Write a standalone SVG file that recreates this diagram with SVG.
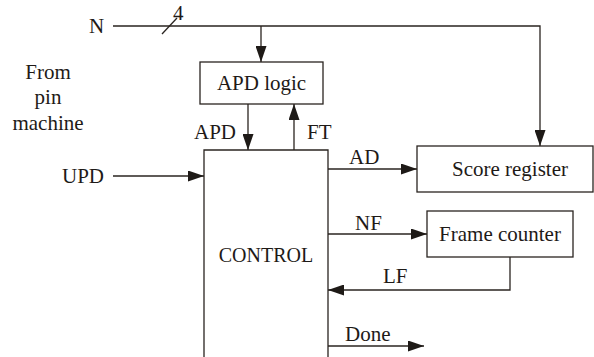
<svg xmlns="http://www.w3.org/2000/svg" width="594" height="357" viewBox="0 0 594 357">
<defs>
<marker id="ah" viewBox="0 0 16 11" refX="16" refY="5.5" markerWidth="16" markerHeight="11" markerUnits="userSpaceOnUse" orient="auto">
<path d="M0,0 L16,5.5 L0,11 Z" fill="#1e1a17"/>
</marker>
</defs>
<g id="connectors" stroke="#2a2420" stroke-width="1.3" fill="none">
<path d="M113,26 H540 V146" marker-end="url(#ah)"/>
<path d="M162,34 L177,18"/>
<path d="M261,26 V62" marker-end="url(#ah)"/>
<path d="M248,104 V150" marker-end="url(#ah)"/>
<path d="M294,150 V104" marker-end="url(#ah)"/>
<path d="M113,176 H204" marker-end="url(#ah)"/>
<path d="M328,169 H417" marker-end="url(#ah)"/>
<path d="M328,234 H427" marker-end="url(#ah)"/>
<path d="M510,257 V290 H328" marker-end="url(#ah)"/>
<path d="M328,346 H424" marker-end="url(#ah)"/>
</g>
<g id="apd-logic">
<rect x="200" y="62" width="123" height="42" fill="#fff" stroke="#2a2420" stroke-width="1.3"/>
<text x="261.5" y="90" text-anchor="middle" font-family="Liberation Serif" font-size="21" fill="#1e1a17">APD logic</text>
</g>
<g id="control">
<path d="M204,358 V150 H328 V358" fill="none" stroke="#2a2420" stroke-width="1.3"/>
<text x="266" y="262" text-anchor="middle" font-family="Liberation Serif" font-size="20" fill="#1e1a17">CONTROL</text>
</g>
<g id="score-register">
<rect x="417" y="146" width="176" height="46" fill="#fff" stroke="#2a2420" stroke-width="1.3"/>
<text x="510" y="176" text-anchor="middle" font-family="Liberation Serif" font-size="21" fill="#1e1a17">Score register</text>
</g>
<g id="frame-counter">
<rect x="427" y="211" width="146" height="46" fill="#fff" stroke="#2a2420" stroke-width="1.3"/>
<text x="500" y="241" text-anchor="middle" font-family="Liberation Serif" font-size="21" fill="#1e1a17">Frame counter</text>
</g>
<g id="labels">
<text x="89" y="33" font-family="Liberation Serif" font-size="21" fill="#1e1a17">N</text>
<text x="173" y="20" font-family="Liberation Serif" font-size="21" fill="#1e1a17">4</text>
<text x="48" y="79" text-anchor="middle" font-family="Liberation Serif" font-size="21" fill="#1e1a17">From</text>
<text x="48" y="104" text-anchor="middle" font-family="Liberation Serif" font-size="21" fill="#1e1a17">pin</text>
<text x="48" y="130" text-anchor="middle" font-family="Liberation Serif" font-size="21" fill="#1e1a17">machine</text>
<text x="62" y="183" font-family="Liberation Serif" font-size="21" fill="#1e1a17">UPD</text>
<text x="194" y="139" font-family="Liberation Serif" font-size="21" fill="#1e1a17">APD</text>
<text x="307" y="139" font-family="Liberation Serif" font-size="21" fill="#1e1a17">FT</text>
<text x="349" y="164" font-family="Liberation Serif" font-size="21" fill="#1e1a17">AD</text>
<text x="355" y="230" font-family="Liberation Serif" font-size="21" fill="#1e1a17">NF</text>
<text x="383" y="283" font-family="Liberation Serif" font-size="21" fill="#1e1a17">LF</text>
<text x="345" y="341" font-family="Liberation Serif" font-size="21" fill="#1e1a17">Done</text>
</g>
</svg>
